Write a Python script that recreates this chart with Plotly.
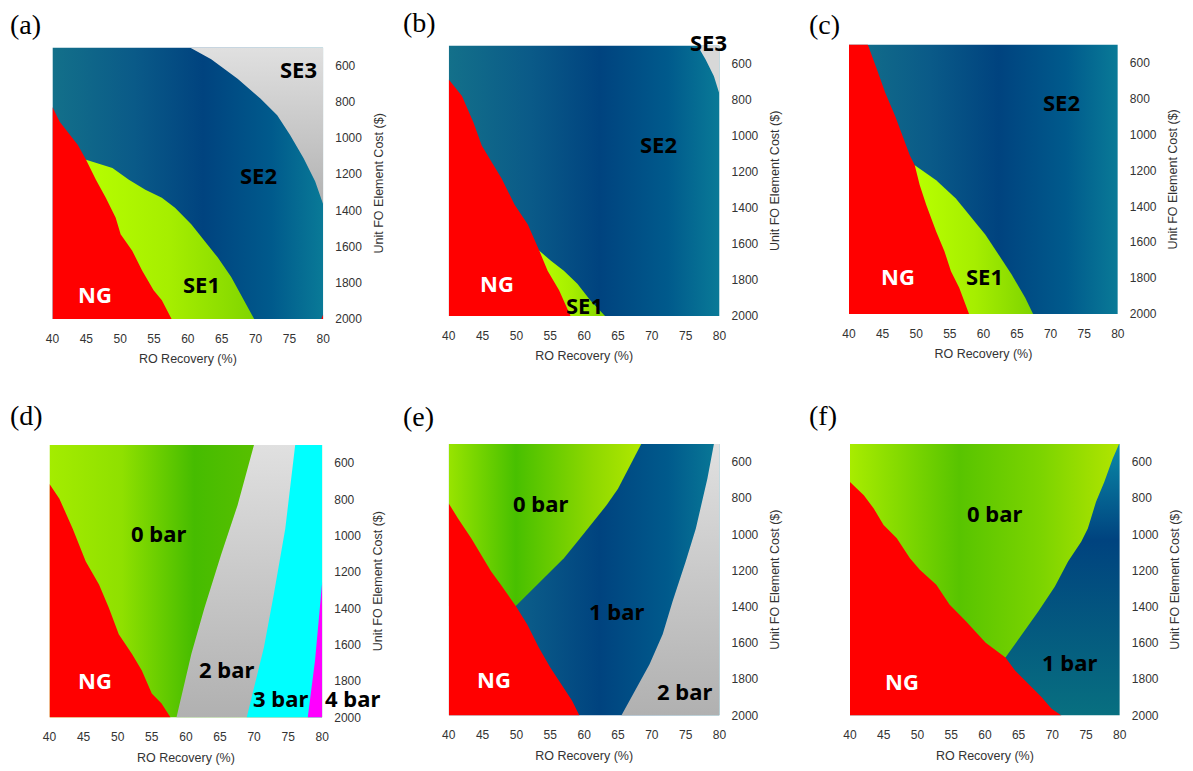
import plotly.graph_objects as go

W, H = 1193, 771

# ---------------- data (boundaries) ----------------
# x: RO Recovery (%), y: Unit FO Element Cost ($)
XR = [40, 80]
YR = [500, 2000]
x_ticks = [40, 45, 50, 55, 60, 65, 70, 75, 80]
y_ticks = [600, 800, 1000, 1200, 1400, 1600, 1800, 2000]

# (a)
a_ng_x = [40, 41.07, 43.75, 44.96, 46.42, 47.88, 49.34, 50.07, 51.78, 53.24, 54.94, 56.16, 57.6]
a_ng_y = [828, 910, 1038, 1120, 1230, 1330, 1440, 1531, 1622, 1732, 1841, 1896, 2000]
a_se1_x = [44.96, 48.86, 51.29, 53.72, 56.16, 58.1, 60.5, 62.5, 64.4, 66.4, 68.3, 69.8]
a_se1_y = [1120, 1166, 1230, 1285, 1330, 1385, 1476, 1567, 1659, 1768, 1896, 2000]
a_se3_x = [60.3, 63.45, 67.35, 70.75, 73.2, 75.1, 77.1, 78.8, 80]
a_se3_y = [500, 564, 673, 783, 874, 983, 1111, 1239, 1367]
a_ng2_x = [79.7, 80, 80]
a_ng2_y = [2000, 1975, 2000]

# (b)
b_ng_x = [40, 41.95, 43.65, 44.87, 46.33, 47.79, 49.73, 51.68, 53.38, 54.6, 56.3, 58.0]
b_ng_y = [688, 780, 926, 1054, 1145, 1236, 1382, 1492, 1638, 1748, 1857, 2000]
b_se1_x = [53.38, 55.09, 57.0, 59.0, 60.9, 63.1]
b_se1_y = [1638, 1693, 1748, 1821, 1912, 2000]
b_se3_x = [76.74, 77.96, 79.17, 80]
b_se3_y = [500, 579, 670, 770]

# (c)
c_ng_x = [42.79, 44.16, 45.38, 46.85, 48.08, 49.06, 49.79, 50.52, 51.5, 52.97, 54.2, 55.17, 56.4, 57.87]
c_ng_y = [500, 638, 767, 896, 1025, 1117, 1172, 1282, 1393, 1540, 1650, 1761, 1853, 2000]
c_se1_x = [49.79, 51.26, 52.97, 55.9, 58.36, 60.3, 62.27, 64.2, 66.2, 67.4]
c_se1_y = [1172, 1209, 1255, 1356, 1466, 1558, 1669, 1779, 1908, 2000]

# (d)
d_ng_x = [40, 41.45, 43.39, 45.32, 47.26, 48.7, 50.16, 52.1, 53.54, 55.0, 56.44, 57.75]
d_ng_y = [715, 796, 960, 1142, 1269, 1396, 1542, 1651, 1742, 1869, 1924, 2000]
d_bar2_x = [69.99, 67.57, 65.15, 62.73, 60.8, 58.62]
d_bar2_y = [500, 833, 1106, 1396, 1651, 2000]
d_bar3_x = [76.03, 74.58, 72.89, 71.44, 68.92]
d_bar3_y = [500, 960, 1324, 1615, 2000]
d_bar4_x = [80, 78.94, 77.87]
d_bar4_y = [1251, 1687, 2000]

# (e)
e_ng_x = [40, 41.37, 43.32, 45.02, 46.24, 47.7, 49.9, 51.6, 53.3, 55.0, 56.98, 58.2, 59.3]
e_ng_y = [829, 912, 1021, 1131, 1204, 1278, 1396, 1497, 1625, 1735, 1845, 1918, 2000]
e_bar0_x = [49.9, 51.6, 54.05, 57.0, 59.4, 61.37, 63.3, 65.0, 66.73, 68.44]
e_bar0_y = [1396, 1332, 1241, 1131, 1021, 930, 839, 747, 619, 500]
e_bar2_x = [79.17, 78.2, 76.5, 75.0, 73.07, 71.6, 69.66, 67.22, 65.5]
e_bar2_y = [500, 692, 967, 1150, 1369, 1552, 1717, 1881, 2000]

# (f)
f_ng_x = [40, 42.05, 43.52, 44.98, 46.94, 48.89, 50.35, 52.8, 54.75, 57.19, 60.12, 63.05, 64.5, 66.47, 68.42, 69.89, 71.36]
f_ng_y = [711, 784, 857, 948, 1021, 1131, 1195, 1278, 1387, 1479, 1598, 1680, 1753, 1826, 1899, 1963, 2000]
f_bar0_x = [63.05, 65.49, 67.94, 70.38, 72.33, 74.28, 75.26, 76.48, 77.7, 78.93, 79.9]
f_bar0_y = [1680, 1552, 1424, 1287, 1150, 1040, 967, 820, 711, 583, 500]

# region labels: (text, x, y, colour)
labels = {
    "a": [("SE3", 76.4, 618, "black"), ("SE2", 70.5, 1202, "black"), ("SE1", 62.0, 1805, "black"), ("NG", 46.3, 1859, "white")],
    "b": [("SE3", 78.4, 478, "black"), ("SE2", 71.0, 1048, "black"), ("SE1", 60.0, 1940, "black"), ("NG", 47.1, 1817, "white")],
    "c": [("SE2", 71.6, 822, "black"), ("SE1", 60.1, 1788, "black"), ("NG", 47.3, 1788, "white")],
    "d": [("0 bar", 56.0, 987, "black"), ("2 bar", 65.9, 1733, "black"), ("3 bar", 73.9, 1891, "black"), ("4 bar", 84.4, 1895, "black"), ("NG", 46.7, 1793, "white")],
    "e": [("0 bar", 53.6, 829, "black"), ("1 bar", 64.8, 1424, "black"), ("2 bar", 74.8, 1863, "black"), ("NG", 46.7, 1799, "white")],
    "f": [("0 bar", 61.4, 884, "black"), ("1 bar", 72.6, 1707, "black"), ("NG", 47.7, 1808, "white")],
}

# ---------------- layout geometry (pixels) ----------------
panels = {
    "a": dict(px=(46, 320), py=(48, 322), lab=(1, 25)),
    "b": dict(px=(447, 721), py=(46, 319), lab=(399, 23)),
    "c": dict(px=(852, 1124), py=(45, 317), lab=(809, 25)),
    "d": dict(px=(43, 319), py=(449, 724), lab=(1, 419)),
    "e": dict(px=(447, 721), py=(448, 722), lab=(399, 420)),
    "f": dict(px=(853, 1126), py=(448, 722), lab=(809, 419)),
}
order = ["a", "b", "c", "d", "e", "f"]

RED = "#ff0000"
BLUE_SCALE = [[0, "#13708a"], [0.3, "#0a5a88"], [0.55, "#00437f"], [0.8, "#005a8c"], [1, "#0a7c98"]]
GREEN1_SCALE = [[0, "#b8ff00"], [0.5, "#a6ee00"], [1, "#7fd400"]]
LIME_SCALE = [[0, "#a4ec00"], [0.35, "#8fe000"], [0.7, "#46bc00"], [1, "#58c000"]]
GRAY_V = [[0, "#e0e0e0"], [1, "#b0b0b0"]]

fig = go.Figure()


def axid(i):
    return "" if i == 1 else str(i)


def poly(i, xs, ys, color=None, grad=None):
    kw = dict(x=xs, y=ys, mode="lines", fill="toself", line=dict(width=0),
              hoverinfo="skip", showlegend=False, xaxis="x" + axid(i), yaxis="y" + axid(i))
    if grad is not None:
        kw["fillgradient"] = grad
        kw["fillcolor"] = grad["colorscale"][0][1]
    else:
        kw["fillcolor"] = color
    fig.add_trace(go.Scatter(**kw))


def hgrad(scale, x0=40, x1=80):
    return dict(type="horizontal", colorscale=scale, start=x0, stop=x1)


def vgrad(scale, y0=500, y1=2000):
    return dict(type="vertical", colorscale=scale, start=y0, stop=y1)


rect_x = [40, 80, 80, 40]
rect_y = [500, 500, 2000, 2000]

# (a)
poly(1, rect_x, rect_y, grad=hgrad(BLUE_SCALE))
poly(1, a_se3_x + [80], a_se3_y + [500], grad=vgrad(GRAY_V, 500, 1400))
poly(1, a_se1_x + [43, 43], a_se1_y + [2000, 1120], grad=hgrad(GREEN1_SCALE, 44, 70))
poly(1, a_ng_x + [40], a_ng_y + [2000], RED)
poly(1, a_ng2_x, a_ng2_y, RED)

# (b)
poly(2, rect_x, rect_y, grad=hgrad(BLUE_SCALE))
poly(2, b_se3_x + [80], b_se3_y + [500], "#d8d8d8")
poly(2, b_se1_x + [50, 50], b_se1_y + [2000, 1638], grad=hgrad(GREEN1_SCALE, 53, 63))
poly(2, b_ng_x + [40], b_ng_y + [2000], RED)

# (c)
poly(3, rect_x, rect_y, grad=hgrad(BLUE_SCALE))
poly(3, c_se1_x + [47, 47], c_se1_y + [2000, 1172], grad=hgrad(GREEN1_SCALE, 50, 67))
poly(3, [40] + c_ng_x + [40], [500] + c_ng_y + [2000], RED)

# (d)
poly(4, rect_x, rect_y, grad=hgrad(LIME_SCALE, 40, 70))
poly(4, d_bar2_x + [80, 80], d_bar2_y + [2000, 500], grad=vgrad(GRAY_V))
poly(4, d_bar3_x + [80, 80], d_bar3_y + [2000, 500], "#00ffff")
poly(4, d_bar4_x + [80], d_bar4_y + [2000], "#ff00ff")
poly(4, d_ng_x + [40], d_ng_y + [2000], RED)

# (e)
poly(5, rect_x, rect_y, grad=hgrad(BLUE_SCALE))
poly(5, e_bar0_x + [40, 40], e_bar0_y + [500, 1396],
     grad=hgrad([[0, "#98e400"], [0.35, "#48c000"], [0.75, "#8ed800"], [1, "#b0e800"]], 40, 68))
poly(5, e_bar2_x + [80, 80], e_bar2_y + [2000, 500], grad=vgrad(GRAY_V))
poly(5, e_ng_x + [40], e_ng_y + [2000], RED)

# (f)
poly(6, rect_x, rect_y, grad=vgrad([[0, "#0a8aa8"], [0.35, "#00437f"], [1, "#087080"]]))
poly(6, f_bar0_x + [40, 40], f_bar0_y + [500, 1680],
     grad=hgrad([[0, "#a8ec00"], [0.4, "#58c400"], [0.7, "#7cd400"], [1, "#b4e600"]], 40, 80))
poly(6, f_ng_x + [40], f_ng_y + [2000], RED)

# ---------------- axes ----------------
tickfont = dict(family="Liberation Sans, Arial", size=12, color="#333333")
titlefont = dict(family="Liberation Sans, Arial", size=12.5, color="#333333")
annotations = []
for i, k in enumerate(order, start=1):
    p = panels[k]
    xd = [p["px"][0] / W, p["px"][1] / W]
    yd = [1 - p["py"][1] / H, 1 - p["py"][0] / H]
    s = axid(i)
    fig.layout["xaxis" + s] = dict(domain=xd, range=XR, anchor="y" + s, tickvals=x_ticks,
                                   showgrid=False, zeroline=False, showline=False, ticks="",
                                   tickfont=tickfont, ticklabelstandoff=11,
                                   title=dict(text="RO Recovery (%)", font=titlefont, standoff=9))
    fig.layout["yaxis" + s] = dict(domain=yd, range=[YR[1], YR[0]], anchor="x" + s, side="right",
                                   tickvals=y_ticks, showgrid=False, zeroline=False, showline=False,
                                   ticks="", tickfont=tickfont, ticklabelstandoff=11,
                                   title=dict(text="Unit FO Element Cost ($)", font=titlefont, standoff=12))
    for (t, x, y, c) in labels[k]:
        annotations.append(dict(x=(x - XR[0]) / (XR[1] - XR[0]), y=(YR[1] - y) / (YR[1] - YR[0]),
                                xref=f"x{s} domain", yref=f"y{s} domain", text=f"<b>{t}</b>",
                                xanchor="center", yanchor="middle", showarrow=False,
                                font=dict(family="Noto Sans", size=22, color=c)))
    annotations.append(dict(x=p["lab"][0] / W, y=1 - p["lab"][1] / H, xref="paper", yref="paper",
                            xanchor="left", yanchor="middle", text=f"({k})", showarrow=False,
                            font=dict(family="Liberation Serif, Times New Roman", size=28, color="black")))

fig.update_layout(width=W, height=H, margin=dict(l=0, r=0, t=0, b=0),
                  paper_bgcolor="white", plot_bgcolor="white",
                  annotations=annotations)

fig.write_html("out.html")
